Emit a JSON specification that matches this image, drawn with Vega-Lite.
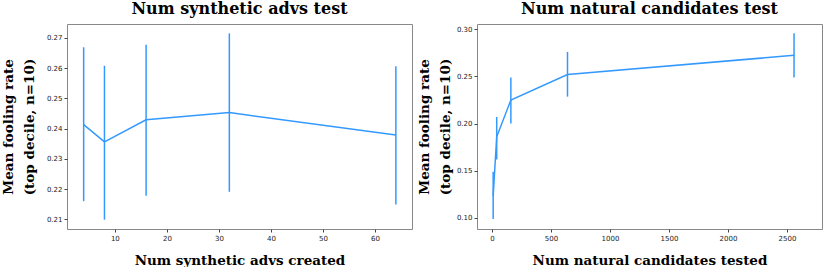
{
  "$schema": "https://vega.github.io/schema/vega-lite/v6.json",
  "background": "white",
  "padding": {"left": 0, "top": 0, "right": 0, "bottom": 0},
  "spacing": 3,
  "datasets": {
    "synthetic": [
      {"n": 4, "mean": 0.2413, "lo": 0.2160, "hi": 0.2669},
      {"n": 8, "mean": 0.2356, "lo": 0.2099, "hi": 0.2608},
      {"n": 16, "mean": 0.2429, "lo": 0.2178, "hi": 0.2677},
      {"n": 32, "mean": 0.2453, "lo": 0.2191, "hi": 0.2715},
      {"n": 64, "mean": 0.2379, "lo": 0.2149, "hi": 0.2606}
    ],
    "natural": [
      {"n": 10, "mean": 0.123, "lo": 0.099, "hi": 0.149},
      {"n": 40, "mean": 0.186, "lo": 0.162, "hi": 0.207},
      {"n": 160, "mean": 0.225, "lo": 0.200, "hi": 0.249},
      {"n": 640, "mean": 0.252, "lo": 0.2286, "hi": 0.276},
      {"n": 2560, "mean": 0.2724, "lo": 0.249, "hi": 0.2957}
    ]
  },
  "config": {
    "view": {"stroke": "#888888", "strokeWidth": 1},
    "axis": {
      "labelFont": "DejaVu Sans",
      "labelFontSize": 7,
      "labelColor": "#222222",
      "labelOverlap": false,
      "labelPadding": 2,
      "tickColor": "#444444",
      "tickSize": 3,
      "domain": false,
      "grid": false,
      "titleFont": "DejaVu Serif",
      "titleFontWeight": "bold",
      "titleFontSize": 13.5,
      "titleLineHeight": 21,
      "titleColor": "#000000"
    },
    "title": {
      "font": "DejaVu Serif",
      "fontSize": 16,
      "fontWeight": "bold",
      "color": "#000000",
      "offset": 7
    }
  },
  "hconcat": [
    {
      "width": 345,
      "height": 205,
      "title": "Num synthetic advs test",
      "data": {"name": "synthetic"},
      "encoding": {
        "x": {"field": "n", "type": "quantitative",
          "scale": {"domain": [0.8, 67.1], "nice": false, "zero": false},
          "axis": {"values": [10, 20, 30, 40, 50, 60], "format": "d", "title": "Num synthetic advs created", "titlePadding": 12}}
      },
      "layer": [
        {
          "mark": {"type": "rule", "color": "#3399ff", "strokeWidth": 1.5},
          "encoding": {
            "y": {"field": "lo", "type": "quantitative",
              "scale": {"domain": [0.2068, 0.2746], "nice": false, "zero": false},
              "axis": {"values": [0.21, 0.22, 0.23, 0.24, 0.25, 0.26, 0.27], "format": ".2f", "title": ["Mean fooling rate", "(top decile, n=10)"], "titlePadding": 10}},
            "y2": {"field": "hi"}
          }
        },
        {
          "mark": {"type": "line", "color": "#3399ff", "strokeWidth": 1.5},
          "encoding": {
            "y": {"field": "mean", "type": "quantitative",
              "scale": {"domain": [0.2068, 0.2746], "nice": false, "zero": false},
              "axis": {"values": [0.21, 0.22, 0.23, 0.24, 0.25, 0.26, 0.27], "format": ".2f", "title": ["Mean fooling rate", "(top decile, n=10)"], "titlePadding": 10}}
          }
        }
      ]
    },
    {
      "width": 345,
      "height": 205,
      "title": "Num natural candidates test",
      "data": {"name": "natural"},
      "encoding": {
        "x": {"field": "n", "type": "quantitative",
          "scale": {"domain": [-127, 2797], "nice": false, "zero": false},
          "axis": {"values": [0, 500, 1000, 1500, 2000, 2500], "format": "d", "title": "Num natural candidates tested", "titlePadding": 12}}
      },
      "layer": [
        {
          "mark": {"type": "rule", "color": "#3399ff", "strokeWidth": 1.5},
          "encoding": {
            "y": {"field": "lo", "type": "quantitative",
              "scale": {"domain": [0.0883, 0.3056], "nice": false, "zero": false},
              "axis": {"values": [0.10, 0.15, 0.20, 0.25, 0.30], "format": ".2f", "title": ["Mean fooling rate", "(top decile, n=10)"], "titlePadding": 4}},
            "y2": {"field": "hi"}
          }
        },
        {
          "mark": {"type": "line", "color": "#3399ff", "strokeWidth": 1.5},
          "encoding": {
            "y": {"field": "mean", "type": "quantitative",
              "scale": {"domain": [0.0883, 0.3056], "nice": false, "zero": false},
              "axis": {"values": [0.10, 0.15, 0.20, 0.25, 0.30], "format": ".2f", "title": ["Mean fooling rate", "(top decile, n=10)"], "titlePadding": 4}}
          }
        }
      ]
    }
  ]
}
